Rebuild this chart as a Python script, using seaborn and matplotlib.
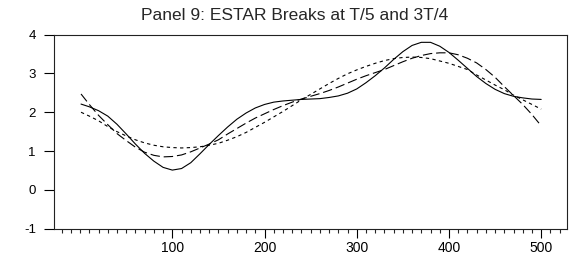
import numpy as np
import pandas as pd
import seaborn as sns
import matplotlib.pyplot as plt
from matplotlib.ticker import MultipleLocator

# observation index (every 10 obs, first obs = 1)
obs = [1] + list(range(10, 501, 10))

solid = [2.21, 2.14, 2.04, 1.90, 1.69, 1.44, 1.18, 0.94, 0.74, 0.58, 0.51,
         0.55, 0.70, 0.93, 1.17, 1.40, 1.62, 1.82, 1.98, 2.11, 2.20,
         2.26, 2.29, 2.31, 2.33, 2.34, 2.35, 2.38, 2.42, 2.49, 2.60,
         2.76, 2.94, 3.14, 3.36, 3.56, 3.72, 3.80, 3.80, 3.70, 3.54,
         3.34, 3.13, 2.92, 2.74, 2.59, 2.48, 2.41, 2.37, 2.34, 2.33]

long_dash = [2.47, 2.20, 1.92, 1.68, 1.45, 1.27, 1.10, 0.97, 0.89, 0.85, 0.86,
             0.90, 0.98, 1.08, 1.18, 1.29, 1.44, 1.58, 1.72, 1.85, 1.96,
             2.07, 2.17, 2.26, 2.34, 2.41, 2.48, 2.56, 2.65, 2.75, 2.85,
             2.94, 3.02, 3.10, 3.20, 3.30, 3.39, 3.46, 3.51, 3.53, 3.53,
             3.48, 3.39, 3.27, 3.10, 2.90, 2.66, 2.43, 2.20, 1.94, 1.65]

short_dash = [2.00, 1.90, 1.78, 1.63, 1.50, 1.39, 1.29, 1.21, 1.15, 1.11, 1.09,
              1.08, 1.09, 1.11, 1.15, 1.20, 1.28, 1.37, 1.48, 1.61, 1.74,
              1.88, 2.02, 2.17, 2.32, 2.46, 2.60, 2.74, 2.87, 2.99, 3.09,
              3.18, 3.26, 3.33, 3.38, 3.41, 3.42, 3.41, 3.38, 3.32, 3.26,
              3.18, 3.10, 2.96, 2.83, 2.70, 2.58, 2.44, 2.32, 2.20, 2.08]

y_ticks = [-1, 0, 1, 2, 3, 4]
x_major = [100, 200, 300, 400, 500]

df = pd.concat([
    pd.DataFrame({'obs': obs, 'value': solid, 'series': 'solid'}),
    pd.DataFrame({'obs': obs, 'value': long_dash, 'series': 'long'}),
    pd.DataFrame({'obs': obs, 'value': short_dash, 'series': 'short'}),
])

sns.set_style('ticks')
plt.rcParams['font.family'] = ['Liberation Sans', 'DejaVu Sans']
plt.rcParams['axes.unicode_minus'] = False

fig = plt.figure(figsize=(5.69, 2.57), dpi=100)
ax = fig.add_axes([0.0954, 0.110, 0.9011, 0.7555])

sns.lineplot(data=df, x='obs', y='value', hue='series', style='series',
             palette={'solid': 'black', 'long': 'black', 'short': 'black'},
             dashes={'solid': '', 'long': (8.5, 3.5), 'short': (3, 3)},
             linewidth=0.8, legend=False, ax=ax)

ax.set_xlim(-28, 528)
ax.set_ylim(-1, 4)
ax.set_yticks(y_ticks)
ax.set_xticks(x_major)
ax.xaxis.set_minor_locator(MultipleLocator(10))
ax.set_xlabel('')
ax.set_ylabel('')

ax.tick_params(axis='y', direction='out', length=7.2, width=0.8, pad=6,
               labelsize=9.5, colors='black')
ax.tick_params(axis='x', which='major', direction='out', length=6.5, width=0.8,
               pad=2, labelsize=10, colors='black')
ax.tick_params(axis='x', which='minor', direction='out', length=3, width=0.8)
for s in ax.spines.values():
    s.set_linewidth(0.8)
    s.set_color('#222222')
    s.set_visible(True)

fig.text(295 / 569, 1 - 20 / 257, 'Panel 9: ESTAR Breaks at T/5 and 3T/4',
         ha='center', va='baseline', fontsize=12.5)

fig.savefig('out.png', dpi=100)
